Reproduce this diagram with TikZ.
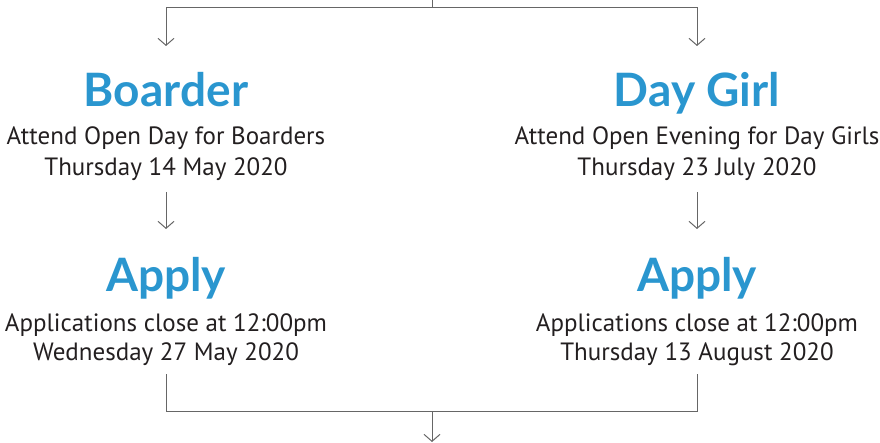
\documentclass[tikz,border=0pt]{standalone}
\usepackage{fontspec}
\setmainfont{PT Sans}
\newfontfamily\headfont{Lato}
\usetikzlibrary{arrows.meta}
\definecolor{headblue}{HTML}{2A96CF}
\definecolor{txt}{HTML}{231F20}
\definecolor{linegray}{HTML}{666666}
\begin{document}
\begin{tikzpicture}[x=1pt,y=-1pt,
  head/.style={anchor=base,inner sep=0pt,text=headblue,font=\headfont\bfseries\fontsize{46}{46}\selectfont},
  body/.style={anchor=base,inner sep=0pt,text=txt,font=\fontsize{25}{25}\selectfont},
  conn/.style={draw=linegray,line width=1pt},
  arr/.style={conn,-{Straight Barb[length=7pt,width=16pt,line width=1pt]}}]
\useasboundingbox (0,0) rectangle (880,443);
% coordinates
\coordinate (top) at (432,0);
\coordinate (topj) at (432,8);
\coordinate (la1) at (166,46);
\coordinate (ra1) at (697,46);
% left column
\node[head] (boarder) at (166,107) {Boarder};
\node[body] (bl1) at (166,145) {Attend Open Day for Boarders};
\node[body] (bl2) at (166,176) {Thursday 14 May 2020};
\coordinate (la2s) at (166,192);
\coordinate (la2e) at (166,229);
\node[head] (applyl) at (166,292) {Apply};
\node[body] (al1) at (166,331) {Applications close at 12:00pm};
\node[body] (al2) at (166,360) {Wednesday 27 May 2020};
% right column
\node[head] (daygirl) at (697,107) {Day Girl};
\node[body] (dl1) at (697,145) {Attend Open Evening for Day Girls};
\node[body] (dl2) at (697,176) {Thursday 23 July 2020};
\coordinate (ra2s) at (697,192);
\coordinate (ra2e) at (697,229);
\node[head] (applyr) at (697,292) {Apply};
\node[body] (ar1) at (697,331) {Applications close at 12:00pm};
\node[body] (ar2) at (697,360) {Thursday 13 August 2020};
% bottom
\coordinate (bl) at (166,374);
\coordinate (br) at (697,374);
\coordinate (bjr) at (697,411);
\coordinate (bj) at (432,411);
\coordinate (bend) at (432,442);
% connectors
\draw[conn] (top) -- (topj);
\draw[arr] (topj) -| (la1);
\draw[arr] (topj) -| (ra1);
\draw[arr] (la2s) -- (la2e);
\draw[arr] (ra2s) -- (ra2e);
\draw[conn] (bl) |- (bjr) -- (br);
\draw[arr] (bj) -- (bend);
\end{tikzpicture}
\end{document}
